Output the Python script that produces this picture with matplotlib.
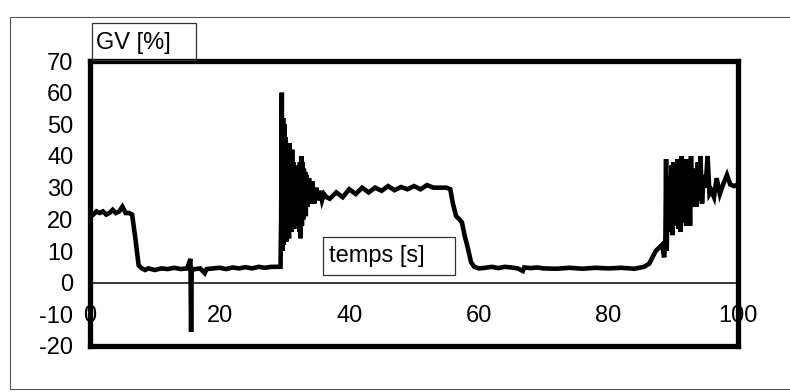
import matplotlib.pyplot as plt
from matplotlib.patches import Rectangle

plt.rcParams['font.family'] = ['Liberation Sans', 'DejaVu Sans']
plt.rcParams['axes.unicode_minus'] = False

# GV [%] versus temps [s]
t_s = [0, 0.5, 1, 1.5, 2, 2.5, 3, 3.5, 4, 4.5, 5, 5.5, 6, 6.5,
       7.0, 7.5, 8.0,
       8.5, 9, 10, 11, 12, 13, 14, 15, 15.5, 15.6, 15.7, 16, 17, 17.7, 18,
       19, 20, 21, 22, 23, 24, 25, 26, 27, 28, 29, 29.4,
       29.5, 29.6, 29.7, 29.8, 29.9, 30.0, 30.1, 30.2, 30.3, 30.4, 30.5,
       30.6, 30.7, 30.8, 30.9, 31.0, 31.1, 31.2, 31.3, 31.4, 31.5, 31.6,
       31.7, 31.8, 31.9, 32.0, 32.1, 32.2, 32.3, 32.4, 32.5, 32.6, 32.7,
       32.8, 32.9, 33.0, 33.1, 33.2, 33.3, 33.4, 33.6, 33.8, 34.0,
       34.3, 34.6, 34.9, 35.2, 35.5, 35.8, 36.1, 36.5,
       37, 38, 39, 40, 41, 42, 43, 44, 45, 46, 47, 48, 49, 50, 51, 52,
       53, 54, 55, 55.6,
       56.0, 56.5, 57.0, 57.4, 57.8, 58.3, 58.8, 59.3, 60,
       61, 62, 63, 64, 65, 66, 66.8, 67, 68, 69, 70, 72, 74, 76, 78, 80,
       82, 84, 85.5,
       86.3, 86.8, 87.3, 87.8, 88.3, 88.6, 88.8, 88.9, 89.0, 89.15, 89.3,
       89.45, 89.6, 89.75, 89.9, 90.05, 90.2, 90.35, 90.5, 90.65, 90.8,
       90.95, 91.1, 91.25, 91.4, 91.55, 91.7, 91.85, 92.0, 92.15, 92.3,
       92.45, 92.6, 92.75, 92.9, 93.05, 93.2, 93.4, 93.6, 93.8, 94.0,
       94.2, 94.45, 94.7, 95.0, 95.3, 95.6, 95.9, 96.3, 96.7, 97.2, 97.7,
       98.3, 98.8, 99.4, 100]
gv_pct = [22, 21.5, 22.5, 22, 22.5, 21.5, 22, 23, 22, 22.5, 24, 22, 22, 21.5,
          14, 5.5, 4.5,
          4, 4.5, 4, 4.5, 4.3, 4.7, 4.3, 4.5, 7.5, -15.5, 4.5, 4.2, 4.5, 3, 4.3,
          4.5, 4.7, 4.3, 4.8, 4.5, 4.9, 4.5, 5, 4.7, 5, 5, 5,
          20, 60, 10, 52, 12, 50, 14, 46, 13, 44, 15,
          42, 14, 44, 17, 40, 16, 42, 18, 38, 17, 36,
          20, 36, 18, 35, 19, 37, 16, 38, 14, 40, 18,
          38, 20, 36, 22, 35, 21, 34, 24, 33, 25,
          32, 25, 30, 26, 29, 26, 28, 27,
          26.5, 28.5, 27, 29.5, 28, 30, 28.5, 30, 29, 30.5, 29.2, 30.2,
          29.5, 30.5, 29.5, 30.8, 30, 30, 30, 29.5,
          25, 21, 20, 19, 15, 11, 6.5, 5, 4.5,
          4.7, 5, 4.6, 5, 4.8, 4.5, 3.7, 4.8, 4.6, 4.8, 4.5, 4.4, 4.7, 4.4, 4.7,
          4.5, 4.7, 4.4, 5,
          6, 8, 10, 11, 12, 8, 14, 39, 10, 30, 18,
          34, 16, 37, 15, 38, 18, 37, 20, 39, 17,
          38, 16, 40, 22, 39, 19, 38, 18, 39, 22,
          38, 18, 40, 24, 36, 25, 35, 24, 38, 26,
          40, 25, 34, 30, 40, 28, 29, 27, 33, 28, 31,
          34, 31, 30.5, 31]

y_ticks = [-20, -10, 0, 10, 20, 30, 40, 50, 60, 70]
x_ticks = [0, 20, 40, 60, 80, 100]
x_labels = ['0', '20', '40', '60', '80', '100']

W, H = 790, 392
fig = plt.figure(figsize=(W / 100, H / 100), dpi=100)
ax = fig.add_axes([90 / W, 1 - 346 / H, (738 - 90) / W, (346 - 61) / H])

ax.plot(t_s, gv_pct, color='black', lw=3.3, solid_joinstyle='miter', zorder=2)

ax.set_xlim(0, 100)
ax.set_ylim(-20, 70)
ax.set_xticks([])
ax.set_yticks(y_ticks)
ax.tick_params(axis='y', length=0, pad=12, labelsize=17)
for s in ax.spines.values():
    s.set_linewidth(3.8)
    s.set_color('black')

# x axis crossing at 0, Excel style, labels under the zero line
sec = ax.secondary_xaxis(20 / 90)
sec.set_xticks(x_ticks, x_labels)
sec.tick_params(length=0, pad=16, labelsize=17)
sec.spines['bottom'].set_linewidth(1.1)

# axis title boxes
def boxed(x0, y0, x1, y1, tx, ty, label):
    fig.patches.append(Rectangle((x0 / W, 1 - y1 / H), (x1 - x0) / W, (y1 - y0) / H,
                                 transform=fig.transFigure, fill=False,
                                 edgecolor='#333333', lw=0.9))
    fig.text(tx / W, 1 - ty / H, label, fontsize=17, ha='left', va='center')

boxed(92, 23, 196, 60, 96, 43, 'GV [%]')
boxed(323, 237, 455, 275, 329, 256, 'temps [s]')

# outer chart frame
fig.patches.append(Rectangle((10 / W, 1 - 389 / H), 800 / W, (389 - 17) / H,
                             transform=fig.transFigure, fill=False,
                             edgecolor='#555555', lw=0.8))

fig.savefig('out.png', dpi=100)
